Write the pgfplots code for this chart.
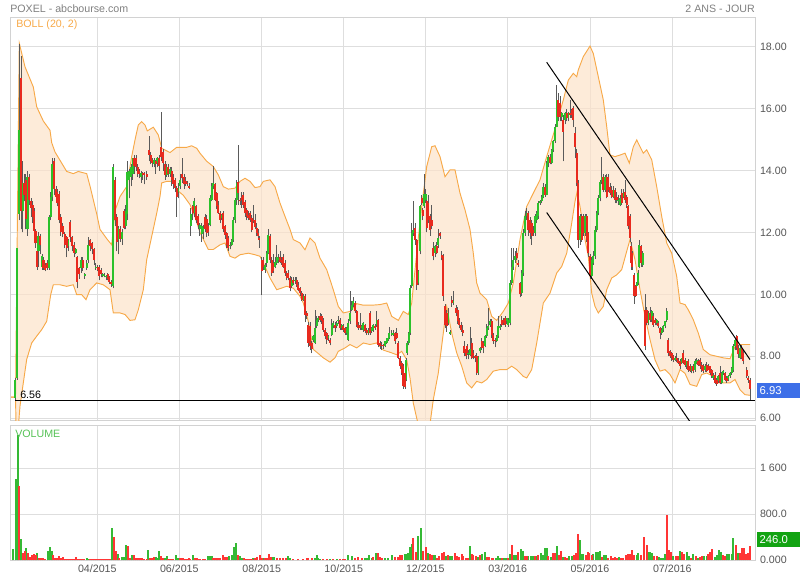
\documentclass[border=0pt]{standalone}
\usepackage{fontspec}
\setmainfont{Liberation Sans}
\usepackage{pgfplots}
\usepackage{pgfplotstable}
\pgfplotsset{compat=1.18}

\definecolor{gridc}{HTML}{DEDEDE}
\definecolor{framec}{HTML}{D2D2D2}
\definecolor{bandline}{HTML}{F7A948}
\definecolor{bandfill}{HTML}{FCE2C9}
\definecolor{upc}{HTML}{2BC12B}
\definecolor{dnc}{HTML}{E82A1E}
\definecolor{wickc}{HTML}{5A5A5A}
\definecolor{volup}{HTML}{35B935}
\definecolor{voldn}{HTML}{FF3535}
\definecolor{txtc}{HTML}{555555}
\definecolor{titc}{HTML}{808080}
\definecolor{lastc}{HTML}{3D6FE8}
\definecolor{volbox}{HTML}{12A312}
\definecolor{volabel}{HTML}{55C255}

% x is the pixel column of the original chart, prices in euros
\pgfplotstableread{
x o h l c
15.0 6.65 7.30 6.56 7.25
17.0 7.30 11.50 7.25 11.50
19.0 12.60 18.10 12.40 15.30
21.0 17.00 17.70 12.10 12.70
22.7 12.70 14.30 12.00 13.60
24.3 13.60 13.90 13.00 13.20
25.8 13.70 13.90 12.10 12.45
27.5 12.10 14.00 11.90 13.80
29.3 13.80 13.90 12.90 13.05
31.0 13.00 13.10 12.50 12.80
32.7 12.90 13.00 12.30 12.50
34.0 12.70 12.80 11.90 12.05
35.5 12.05 12.10 11.50 11.65
37.0 11.40 11.50 10.80 10.90
38.5 11.40 12.00 10.90 11.90
40.0 11.90 11.95 11.30 11.60
42.0 10.90 11.30 10.80 11.25
43.5 11.10 11.20 10.80 10.85
45.3 10.95 11.00 10.75 10.80
47.0 11.00 11.10 10.80 10.85
49.0 10.85 12.55 10.80 12.50
50.7 12.50 13.30 12.40 13.15
52.3 13.15 14.40 13.00 14.20
54.0 14.30 14.40 13.20 13.40
56.0 13.40 13.50 13.00 13.15
57.3 13.30 13.40 12.85 12.95
59.3 13.25 13.35 12.30 12.40
60.7 12.50 12.60 11.90 12.00
62.7 12.20 12.30 11.85 11.95
64.7 11.95 12.00 11.50 11.60
66.7 11.85 11.90 11.20 11.50
68.3 11.55 11.80 11.40 11.75
70.3 12.35 12.40 11.70 11.85
72.3 11.85 11.90 11.40 11.55
74.0 11.60 11.70 11.20 11.35
75.7 11.35 11.50 11.30 11.45
77.3 11.20 11.25 10.20 10.40
79.0 10.85 10.90 10.50 10.65
81.0 10.85 11.20 10.70 11.10
82.7 11.10 11.20 10.75 10.85
84.7 10.60 10.70 10.50 10.65
86.7 10.85 11.10 10.80 11.00
88.3 11.10 11.85 11.00 11.60
90.0 11.75 11.80 11.40 11.55
92.0 11.65 11.70 11.30 11.45
94.0 11.45 11.50 10.95 11.10
95.7 10.85 11.00 10.80 10.90
97.7 10.90 10.95 10.75 10.80
99.3 10.90 10.95 10.45 10.60
101.0 10.80 10.85 10.55 10.65
102.7 10.60 10.70 10.55 10.65
104.3 10.60 10.70 10.55 10.64
106.0 10.55 10.62 10.48 10.58
107.7 10.65 10.70 10.45 10.50
109.3 10.55 10.60 10.35 10.40
111.0 10.40 10.45 10.25 10.33
113.3 10.26 14.20 10.20 14.10
115.0 13.70 13.80 12.20 12.40
116.7 12.50 12.60 11.40 11.70
118.3 11.75 12.20 11.30 12.15
120.0 12.10 12.20 11.70 11.80
122.0 11.80 12.10 11.60 12.00
124.0 12.70 12.75 12.10 12.15
125.7 12.20 12.90 12.10 12.70
127.3 12.60 14.30 12.40 13.95
129.0 13.70 14.05 13.10 14.00
131.0 13.80 14.20 13.50 14.10
132.7 13.90 14.40 13.70 14.40
134.3 14.40 14.50 13.90 14.15
136.0 14.40 14.50 14.00 14.10
137.7 14.10 14.20 13.80 13.90
139.3 14.00 14.05 13.75 13.90
141.0 13.80 14.00 13.60 13.92
142.7 13.92 13.95 13.70 13.86
144.3 13.92 13.95 13.55 13.86
146.7 13.90 14.00 13.70 13.80
149.0 14.67 15.10 14.30 14.50
150.7 14.50 14.60 14.20 14.30
152.3 14.35 14.40 14.10 14.25
154.0 14.20 14.40 14.10 14.35
155.7 14.30 14.35 13.90 14.20
157.3 14.25 14.45 14.10 14.40
159.3 14.40 14.50 14.00 14.15
161.0 14.75 15.90 14.30 14.45
163.0 14.60 14.70 14.00 14.25
165.0 14.20 14.30 13.70 13.85
166.7 13.85 14.20 13.80 14.10
168.3 14.10 14.20 13.80 13.90
170.0 13.90 14.10 13.80 14.05
171.7 14.00 14.10 13.50 13.70
173.3 13.80 13.90 13.40 13.55
175.0 13.70 13.75 13.30 13.45
176.7 13.45 13.50 12.50 13.15
178.3 13.30 13.60 13.10 13.45
180.0 13.50 13.90 13.40 13.70
182.0 13.90 14.40 13.60 13.75
184.0 13.80 13.90 13.40 13.55
185.7 13.65 13.80 13.50 13.55
187.3 13.60 13.65 13.50 13.55
189.0 13.50 13.60 13.40 13.45
190.7 12.20 12.80 11.90 12.60
192.7 12.84 12.90 12.40 12.62
194.3 12.62 13.10 12.50 13.00
196.3 12.84 12.90 12.30 12.41
198.3 12.52 12.60 12.10 12.25
199.7 12.10 12.30 11.90 12.25
201.7 11.95 12.30 11.70 12.20
203.3 12.00 12.25 11.80 12.15
205.0 12.50 12.60 12.00 12.10
206.7 12.45 12.55 11.85 11.98
208.3 12.20 12.30 11.90 12.00
210.0 12.25 13.20 12.20 13.10
211.7 13.05 13.60 13.00 13.50
213.3 13.50 14.15 13.40 13.60
215.0 13.55 13.60 13.00 13.05
216.7 13.26 13.30 12.75 12.84
218.3 12.90 13.00 12.60 12.62
220.0 12.62 12.70 12.30 12.41
221.7 12.46 12.60 12.40 12.57
223.3 12.62 12.70 12.00 12.10
225.0 12.20 12.25 11.80 11.93
226.7 11.98 12.00 11.50 11.60
228.3 11.82 11.90 11.40 11.50
230.0 11.55 11.70 11.45 11.60
231.7 11.60 11.80 11.55 11.76
233.3 11.76 12.50 11.70 12.41
235.0 12.41 13.10 12.30 13.05
236.7 13.05 13.70 12.90 13.59
238.3 13.64 14.83 12.90 13.27
240.0 13.05 13.10 12.90 13.00
241.7 13.16 13.30 12.80 13.05
243.3 13.22 13.30 12.80 12.89
245.0 12.99 13.05 12.50 12.62
246.7 12.73 12.80 12.40 12.52
248.3 12.57 12.70 12.40 12.46
250.0 12.62 12.70 12.35 12.41
251.7 12.46 12.55 12.00 12.09
253.3 12.41 12.90 12.30 12.36
255.0 12.41 12.60 12.10 12.19
256.7 12.14 12.30 11.90 11.98
258.3 11.98 12.10 11.80 11.87
259.3 11.82 11.90 11.50 11.76
261.7 11.12 11.20 9.99 10.74
263.3 11.12 11.20 10.80 10.90
265.0 10.80 11.00 10.70 10.95
266.7 11.00 11.40 10.90 11.33
268.3 11.33 12.10 11.30 11.92
270.0 11.89 11.95 11.00 11.12
271.7 11.12 11.20 10.60 10.69
273.3 11.00 11.30 10.70 10.74
275.0 10.90 11.20 10.85 11.06
276.7 11.01 11.60 10.95 11.22
278.3 11.12 11.30 11.00 11.17
280.0 11.22 11.40 11.00 11.06
281.7 11.12 11.20 10.95 11.01
283.3 11.22 11.30 10.85 10.90
285.0 11.01 11.10 10.60 10.69
286.7 10.69 10.75 10.45 10.53
288.3 10.69 10.80 10.45 10.53
290.0 10.53 10.60 10.10 10.20
291.7 10.26 10.55 10.20 10.47
293.3 10.47 10.55 10.30 10.37
295.0 10.42 10.55 10.35 10.47
296.7 10.47 10.55 10.25 10.31
298.3 10.31 10.40 10.10 10.15
300.0 10.20 10.25 9.95 10.04
301.7 10.04 10.10 9.80 9.83
303.3 9.83 10.00 9.80 9.94
305.0 9.94 10.00 9.10 9.34
306.7 9.40 9.45 9.20 9.29
308.3 9.02 9.10 8.30 8.43
310.0 8.97 9.10 8.20 8.33
311.7 8.43 8.50 8.10 8.22
313.3 8.54 8.70 8.45 8.65
315.0 8.43 9.50 8.40 8.91
316.7 8.97 9.30 8.90 9.18
318.3 9.18 9.30 9.10 9.24
320.0 9.29 9.40 9.10 9.18
321.7 9.29 9.35 9.05 9.13
323.3 9.18 9.25 8.80 8.86
325.0 8.86 8.90 8.55 8.65
326.7 8.75 8.80 8.40 8.54
328.3 8.59 8.70 8.50 8.65
330.0 8.54 8.60 8.35 8.43
331.7 8.70 9.20 8.65 9.02
333.3 8.97 9.15 8.90 9.08
335.0 9.02 9.10 8.80 8.91
336.7 8.97 9.15 8.90 9.08
338.3 9.13 9.30 9.05 9.18
340.0 9.18 9.25 8.85 8.91
341.7 8.91 9.05 8.85 9.02
343.3 8.97 9.05 8.80 8.86
345.0 8.91 8.95 8.70 8.75
346.7 8.75 8.95 8.70 8.91
348.3 8.54 9.20 8.50 9.08
350.0 9.13 10.10 9.05 9.40
351.7 9.51 9.80 9.45 9.67
353.3 9.67 9.90 9.60 9.78
355.0 9.72 9.80 9.40 9.45
356.7 9.45 9.50 8.95 9.02
358.3 9.02 9.10 8.85 8.91
360.0 9.02 9.40 8.85 8.91
361.7 8.91 9.00 8.85 8.97
363.3 8.86 9.10 8.80 9.08
365.0 9.02 9.05 8.75 8.81
366.7 8.86 8.90 8.70 8.75
368.3 8.75 8.90 8.70 8.86
370.0 9.40 9.45 8.70 8.75
371.7 8.81 8.95 8.75 8.91
373.3 8.86 9.05 8.80 9.02
375.0 8.97 9.05 8.85 8.91
376.7 9.02 9.45 8.95 9.18
378.3 9.18 9.20 8.30 8.38
380.0 8.43 8.50 8.25 8.33
381.7 8.38 8.45 8.20 8.33
383.3 8.38 8.40 8.25 8.33
385.0 8.33 8.50 8.30 8.48
386.7 8.43 8.60 8.40 8.59
388.3 8.54 8.65 8.50 8.59
389.3 8.59 8.95 8.55 8.75
391.7 8.70 8.85 8.65 8.75
393.3 8.70 8.85 8.65 8.75
395.0 8.75 8.80 8.40 8.48
396.7 8.75 8.90 8.55 8.59
398.3 8.43 8.50 7.90 7.95
400.0 7.95 8.00 7.60 7.68
401.7 7.79 7.85 7.40 7.46
403.3 7.68 7.75 6.95 7.03
405.0 7.46 7.55 6.95 7.00
406.0 7.25 7.95 7.20 7.89
407.3 8.11 8.50 8.05 8.43
408.7 8.43 8.80 8.35 8.75
410.0 8.75 10.30 8.70 10.20
411.7 10.26 12.30 10.20 11.98
413.3 11.98 13.00 11.90 12.09
415.0 12.14 12.30 11.60 11.76
416.7 11.76 11.80 10.15 10.31
418.3 10.37 10.80 10.30 10.74
420.0 11.39 12.90 11.30 12.84
421.7 13.12 13.20 12.90 12.95
422.7 12.73 12.80 12.40 12.52
424.0 12.84 13.90 12.80 13.24
425.7 13.05 13.40 12.95 13.24
426.7 13.00 13.20 12.00 12.14
428.3 12.95 13.20 12.30 12.41
430.0 12.52 12.60 11.90 12.09
431.7 12.41 12.90 12.10 12.20
433.3 11.49 11.70 11.10 11.23
435.0 11.33 11.60 11.20 11.55
436.7 11.55 11.70 11.30 11.33
438.3 11.60 12.10 11.50 11.82
440.0 11.98 12.00 11.80 11.87
441.7 11.27 11.40 11.10 11.17
443.3 11.23 11.30 9.80 9.94
445.0 9.61 9.70 8.90 9.02
446.7 9.40 9.50 8.80 8.97
448.3 9.08 9.55 9.00 9.40
450.0 8.73 8.85 8.70 8.78
451.7 9.83 9.95 9.60 9.72
453.3 9.72 10.10 9.65 9.78
456.0 9.56 9.65 9.30 9.40
457.7 9.51 9.60 9.05 9.13
459.3 9.18 9.25 8.90 9.02
461.0 9.02 9.10 8.80 8.86
462.7 8.86 9.00 8.65 8.75
464.3 8.33 8.50 8.00 8.11
466.0 8.22 8.30 7.90 8.00
467.3 8.33 8.40 8.05 8.11
468.3 8.06 8.20 7.90 8.11
470.0 8.05 8.95 8.00 8.22
471.7 8.43 8.60 7.90 7.95
473.3 8.11 8.20 7.90 8.00
475.0 8.00 8.05 7.80 7.95
476.7 8.00 8.10 7.40 7.46
478.3 7.46 8.00 7.40 7.97
480.0 8.16 8.30 8.10 8.27
481.7 8.48 8.60 8.20 8.27
483.3 8.43 8.50 8.10 8.27
485.0 8.33 8.70 8.30 8.65
486.7 8.65 9.05 8.60 8.91
488.3 8.91 9.55 8.85 8.97
490.0 9.02 9.20 8.95 9.13
491.7 9.13 9.20 8.60 8.70
493.3 8.70 8.75 8.40 8.48
495.0 8.54 8.60 8.30 8.48
496.7 8.48 8.70 8.45 8.65
498.3 8.65 9.30 8.60 8.97
500.0 8.91 9.05 8.85 8.97
501.7 9.18 9.30 8.95 9.02
503.3 9.18 9.25 9.00 9.08
505.0 9.24 9.30 8.95 9.02
506.7 9.13 9.25 9.05 9.24
508.3 9.02 9.25 8.95 9.18
510.0 9.08 10.45 9.00 10.37
511.7 10.37 11.50 10.30 10.90
513.3 10.90 11.50 10.80 11.12
515.0 11.12 11.40 11.00 11.23
516.7 11.33 11.50 11.10 11.17
518.3 11.01 11.10 10.90 10.96
520.0 10.37 10.40 9.90 10.00
521.7 10.04 10.80 9.95 10.69
523.3 10.69 12.10 10.60 11.98
525.0 11.98 12.70 11.90 12.52
526.7 12.52 12.80 12.40 12.62
528.3 12.62 12.70 11.90 12.09
530.0 12.41 12.50 11.80 11.98
531.7 12.30 12.40 11.60 11.87
533.3 12.09 12.20 11.90 11.98
535.0 11.98 12.60 11.90 12.52
536.7 12.41 12.70 12.30 12.62
538.3 12.52 13.00 12.45 12.94
540.0 12.94 13.05 12.90 13.00
541.7 13.00 13.20 12.95 13.15
543.3 13.16 13.60 13.10 13.48
545.0 13.48 13.55 13.15 13.22
546.7 13.22 14.30 13.20 14.24
548.3 14.24 14.50 14.10 14.45
550.0 14.45 14.55 14.20 14.24
551.7 14.24 14.70 14.20 14.67
553.3 14.67 15.00 14.60 14.94
555.0 14.94 15.50 14.90 15.42
556.7 15.42 16.76 15.40 16.28
558.3 16.28 16.50 15.60 15.74
560.0 16.17 16.40 15.60 15.74
561.7 15.74 15.90 15.60 15.85
563.3 15.63 15.80 14.30 15.26
565.0 15.63 15.90 15.50 15.85
566.7 15.85 16.00 15.60 15.69
568.3 15.69 15.90 15.60 15.85
570.0 15.85 16.28 15.70 15.80
571.7 15.96 16.00 15.70 15.80
573.3 16.01 16.10 15.40 15.63
575.0 15.20 15.40 14.40 14.77
576.7 14.56 14.70 13.50 13.59
578.3 13.59 13.70 11.50 11.76
580.0 11.76 12.60 11.60 12.52
581.7 12.52 12.60 11.70 11.76
583.3 12.52 12.60 11.90 11.98
585.0 11.98 12.60 11.90 12.52
586.7 12.52 12.60 11.70 11.76
588.3 11.98 12.00 11.20 11.33
590.0 11.23 11.30 10.50 10.58
591.7 10.58 11.20 10.50 11.12
593.3 11.01 11.40 10.95 11.23
595.0 11.23 12.20 11.15 12.09
596.7 12.09 12.70 12.00 12.62
598.3 12.62 13.20 12.55 13.11
600.0 13.11 13.70 13.00 13.64
601.7 13.64 14.45 13.55 13.80
603.3 13.80 13.90 13.30 13.38
605.0 13.38 13.85 13.30 13.80
606.7 13.80 13.90 13.10 13.16
608.3 13.80 13.90 13.30 13.38
610.0 13.48 13.60 13.20 13.27
611.7 13.38 13.50 13.10 13.16
613.3 13.16 13.50 13.10 13.38
615.0 13.38 13.45 12.95 13.05
616.7 13.16 13.30 12.95 13.05
618.3 13.00 13.20 12.90 13.05
620.0 12.90 13.20 12.85 13.11
621.7 13.27 13.40 12.90 12.95
623.3 13.16 13.40 13.10 13.27
625.0 13.32 13.70 12.95 13.05
626.7 13.16 13.20 12.80 12.89
628.3 12.84 12.90 12.10 12.20
630.0 12.52 12.60 11.70 11.82
631.0 11.55 11.70 10.80 11.01
632.3 11.33 11.40 10.80 10.90
634.0 10.63 10.70 9.70 9.94
635.7 10.26 10.30 9.90 9.94
636.7 10.26 10.40 10.20 10.37
638.3 10.37 10.80 10.30 10.69
639.3 10.90 11.75 10.85 11.60
641.0 11.55 11.60 10.90 11.01
642.7 10.96 11.40 10.90 11.33
645.0 9.50 10.00 8.20 8.33
646.7 9.50 9.60 9.00 9.08
648.3 9.08 9.45 9.00 9.40
650.0 9.40 9.60 9.10 9.18
651.7 9.18 9.50 9.10 9.45
653.3 9.29 9.40 8.95 9.02
655.0 9.18 9.25 9.00 9.08
656.7 9.08 9.20 9.00 9.18
658.3 9.08 9.15 8.90 8.97
660.0 8.91 8.95 8.55 8.75
661.7 8.75 8.90 8.70 8.86
663.3 8.86 9.00 8.80 8.97
665.0 8.97 9.10 8.90 9.13
666.7 9.18 9.55 9.10 9.45
668.3 8.54 8.60 8.00 8.11
670.0 8.16 8.20 7.95 8.00
671.7 8.11 8.15 7.85 7.95
673.3 8.00 8.05 7.80 7.89
675.0 7.89 8.00 7.85 7.95
676.7 7.95 8.10 7.80 7.89
678.3 7.89 7.95 7.75 7.79
680.0 7.84 7.90 7.60 7.68
681.7 7.79 7.95 7.75 7.95
683.3 8.11 8.20 7.75 7.79
685.0 7.89 7.95 7.65 7.73
686.7 7.68 7.85 7.60 7.84
688.3 7.84 7.90 7.50 7.57
690.0 7.68 7.75 7.50 7.52
691.7 7.52 7.70 7.45 7.68
693.3 7.68 7.75 7.45 7.52
695.0 7.57 7.90 7.50 7.84
696.7 7.79 7.95 7.75 7.89
698.3 7.84 7.90 7.70 7.73
700.0 7.89 7.95 7.60 7.68
701.7 7.73 7.80 7.50 7.57
703.3 7.68 7.75 7.45 7.52
705.0 7.57 7.75 7.50 7.68
706.7 7.73 7.80 7.50 7.52
708.3 7.68 7.75 7.55 7.57
710.0 7.68 7.70 7.40 7.46
711.7 7.57 7.60 7.30 7.35
713.3 7.30 7.45 7.25 7.41
715.0 7.41 7.50 7.10 7.14
716.7 7.25 7.30 7.05 7.09
718.3 7.19 7.40 7.15 7.35
720.0 7.46 7.70 7.10 7.14
721.7 7.14 7.50 7.10 7.46
723.3 7.46 7.55 7.40 7.52
725.0 7.46 7.50 7.20 7.25
726.7 7.30 7.35 7.15 7.19
728.3 7.25 7.40 7.20 7.35
730.0 7.35 7.50 7.30 7.46
731.7 7.46 7.65 7.40 7.62
733.3 7.57 8.40 7.50 8.32
735.0 8.32 8.60 8.20 8.54
736.7 8.65 8.70 8.20 8.27
738.3 8.27 8.35 7.95 8.06
740.0 7.95 8.35 7.90 8.27
741.7 8.27 8.35 7.90 7.95
743.3 8.11 8.20 7.75 7.84
746.7 7.57 7.65 7.30 7.37
748.3 7.30 7.35 7.15 7.25
750.0 7.25 7.30 6.56 6.93
}\candles

\pgfplotstableread{
x v
11.0 6.68
15.5 6.68
19.3 18.11
25.0 17.35
33.3 16.70
36.7 16.06
43.3 15.60
50.0 15.30
51.7 14.90
55.0 14.60
61.7 14.24
66.7 13.97
73.3 13.90
78.3 13.97
86.7 13.90
90.0 13.50
96.7 12.60
100.0 12.10
106.7 11.80
111.7 11.60
115.0 12.70
120.0 13.16
126.7 13.48
131.7 14.45
135.0 14.99
138.3 15.47
141.7 15.58
145.0 15.47
147.3 15.28
153.3 15.40
158.3 15.15
161.7 14.72
170.0 14.58
176.7 14.75
186.7 14.75
191.7 14.80
196.7 14.72
200.0 14.56
206.7 14.30
213.3 14.13
218.3 13.86
223.3 13.48
228.3 13.40
235.0 13.43
240.0 13.65
245.0 13.75
250.0 13.65
255.0 13.45
260.0 13.48
263.3 13.65
270.0 13.70
275.0 13.48
280.0 12.95
285.0 12.52
290.0 12.10
293.3 11.77
300.0 11.66
305.0 11.44
310.0 11.82
315.0 11.66
320.0 11.17
326.7 10.80
333.3 10.15
338.3 9.61
343.3 9.40
350.0 9.45
356.7 9.70
363.3 9.65
371.7 9.65
380.0 9.67
386.7 9.72
391.7 9.29
398.3 9.16
403.3 9.45
408.3 9.35
411.7 9.72
416.7 11.33
421.7 12.84
426.7 14.13
431.7 14.77
435.0 14.80
440.0 14.45
445.0 13.80
450.0 14.02
455.0 14.02
460.0 13.27
465.0 12.73
470.0 12.10
473.3 11.33
476.7 10.37
480.0 10.04
486.7 9.83
491.7 9.29
496.7 9.16
503.3 9.45
508.3 9.72
513.3 10.37
520.0 11.77
526.7 12.84
533.3 13.27
540.0 13.70
546.7 14.45
551.7 14.99
556.7 15.53
563.3 16.28
568.3 16.92
573.3 17.14
576.7 17.03
578.3 17.25
583.3 17.68
590.0 18.02
593.3 17.78
598.3 17.03
603.3 16.28
606.7 15.42
610.0 14.50
615.0 14.45
620.0 14.50
625.0 14.56
629.3 14.24
633.3 14.77
636.7 14.99
640.0 14.77
643.3 14.56
646.7 14.67
651.7 14.35
656.7 13.48
661.7 12.52
666.7 11.66
671.7 11.33
676.7 10.58
680.0 9.72
685.0 9.67
688.3 9.50
693.3 9.18
698.3 8.75
703.3 8.22
710.0 8.05
716.7 8.00
723.3 7.95
730.0 7.92
735.0 8.32
740.0 8.38
750.0 8.38
}\bandup

\pgfplotstableread{
x v
11.0 6.68
15.5 6.68
16.5 5.00
20.0 6.39
23.3 7.14
26.7 7.90
31.7 8.43
36.7 8.65
41.7 8.86
46.7 9.13
50.7 9.99
53.3 10.31
60.0 10.31
66.7 10.26
73.3 10.31
76.7 9.99
81.7 9.99
86.0 9.83
90.0 10.15
96.7 10.37
103.3 10.31
110.0 10.15
113.3 9.40
120.0 9.40
125.0 9.35
130.0 9.16
135.0 9.18
138.3 9.50
143.3 10.15
146.7 11.12
151.7 11.87
156.7 12.62
160.0 13.16
161.7 13.60
166.7 13.65
173.3 13.65
176.7 13.38
183.3 13.20
190.0 12.90
195.0 12.50
200.0 12.00
208.3 11.45
213.3 11.45
220.0 11.60
225.0 11.66
230.0 11.23
235.0 11.17
240.0 11.28
248.3 11.33
255.0 11.28
260.0 11.23
265.0 10.90
270.0 10.53
276.7 10.15
286.7 10.26
293.3 10.20
300.0 9.94
303.3 9.72
308.3 9.13
313.3 8.22
318.3 8.09
323.3 7.95
330.0 7.81
335.0 7.95
338.3 8.16
345.0 8.27
350.0 8.38
356.7 8.27
363.3 8.43
370.0 8.38
376.7 8.43
383.3 8.20
391.7 8.11
396.7 8.05
401.7 8.16
406.7 7.89
410.0 7.30
413.3 6.49
416.7 6.00
421.7 5.40
428.3 5.40
433.3 6.60
438.3 7.46
443.3 8.75
446.7 9.60
451.7 8.75
456.7 8.11
461.7 7.68
466.7 7.14
471.7 6.98
476.7 7.19
481.7 7.14
486.7 7.25
493.3 7.52
500.0 7.57
506.7 7.57
511.7 7.68
516.7 7.57
523.3 7.35
526.7 7.30
531.7 7.57
536.7 8.43
543.3 9.72
550.0 10.04
556.7 10.69
561.7 10.90
566.7 11.33
571.7 12.30
575.0 13.00
577.0 13.30
580.0 12.84
585.0 11.77
588.3 11.23
591.7 10.04
595.0 9.61
598.3 9.40
603.3 9.61
606.7 10.15
611.7 10.53
616.7 10.63
621.7 10.80
626.7 11.39
630.0 11.77
635.0 11.12
640.0 10.15
645.0 9.29
650.0 8.54
655.0 7.89
660.0 7.52
665.0 7.57
670.0 7.41
675.0 7.14
680.0 7.57
685.0 7.45
690.0 7.09
696.7 7.03
701.7 7.41
706.7 7.46
713.3 7.35
718.3 7.14
725.0 7.14
730.0 7.14
735.0 7.25
740.0 6.92
745.0 6.76
750.0 6.74
}\bandlo

% band outline as one closed polygon: upper band forward, lower band backward
\pgfplotstablesort[sort key=x, sort cmp=float >]{\bandlorev}{\bandlo}
\pgfplotstablevertcat{\bandpoly}{\bandup}
\pgfplotstablevertcat{\bandpoly}{\bandlorev}

% volume (thousands), d=1 up day, d=0 down day
\pgfplotstableread{
x v d
13.3 190 1
15.7 1415 1
17.7 2180 1
19.3 1300 0
21.3 370 1
23.3 133 0
24.7 162 0
26.3 209 1
28.0 133 0
30.0 64 0
32.0 93 0
34.0 104 0
35.7 93 0
37.3 122 1
39.3 46 0
41.3 35 0
43.3 35 0
45.0 23 0
48.3 162 1
50.0 226 1
51.7 162 1
53.3 93 0
55.0 46 0
57.3 35 0
59.3 75 0
61.3 35 0
63.3 52 0
65.3 23 0
67.0 15 0
69.0 15 0
71.0 15 0
73.0 15 0
75.0 15 0
76.0 58 0
78.3 20 0
80.0 15 0
82.0 15 0
84.0 15 0
86.7 46 1
88.3 20 1
90.3 15 0
92.3 23 0
94.3 23 0
96.3 15 0
98.3 15 0
100.3 15 0
102.3 15 0
104.3 15 0
106.3 15 0
108.3 15 0
110.0 15 0
111.7 557 1
114.0 400 0
116.0 162 0
117.7 104 1
119.3 35 0
121.7 64 1
123.7 64 1
126.0 273 1
128.3 250 0
130.3 46 0
132.0 93 1
134.0 93 0
136.0 46 0
138.3 35 0
140.3 35 0
142.3 35 0
144.3 30 0
146.7 23 0
148.3 174 1
150.0 46 0
152.0 46 0
154.0 58 0
155.7 58 1
157.3 46 1
159.3 157 1
161.3 75 0
163.3 35 0
165.0 35 1
166.7 70 1
168.3 20 0
170.0 23 0
171.7 23 0
173.3 23 0
175.7 93 1
178.0 46 1
180.0 35 0
181.7 35 0
183.3 35 0
185.0 30 0
186.7 23 0
188.7 35 0
190.0 25 0
192.7 87 1
195.0 46 0
196.7 35 0
198.3 30 0
200.0 23 0
203.3 23 0
205.0 23 0
208.3 70 1
210.0 81 1
211.7 81 1
213.3 46 0
215.0 46 0
216.7 46 0
218.3 35 0
220.0 35 0
222.7 93 0
225.0 64 0
226.7 64 0
229.3 70 1
231.7 93 1
234.0 226 1
236.3 296 1
238.3 99 0
240.0 70 1
242.0 46 1
244.0 35 0
246.0 30 0
248.0 30 0
250.0 30 0
252.0 30 0
253.3 46 1
255.0 46 0
257.3 64 0
260.0 93 0
261.7 46 0
263.3 46 1
265.0 35 0
266.7 35 0
268.7 110 0
270.7 64 0
272.7 64 1
274.0 64 1
276.7 46 0
280.0 35 0
283.3 35 0
286.0 35 0
288.0 70 1
290.0 35 1
293.3 23 0
298.3 23 0
303.3 23 0
306.7 35 0
308.3 46 0
311.7 35 0
315.0 35 1
316.7 93 1
318.3 46 1
320.0 30 1
323.3 25 0
326.7 25 0
330.0 25 1
333.3 25 0
336.7 25 1
340.0 25 0
343.3 25 0
345.0 25 0
348.3 93 1
351.7 70 1
355.0 35 0
358.3 58 0
361.7 35 0
365.0 46 1
366.7 46 1
369.3 93 1
371.7 46 1
373.3 58 0
376.0 122 1
378.3 133 0
380.0 64 0
381.7 35 0
385.0 35 1
388.3 35 1
391.7 93 1
395.0 64 0
398.3 64 0
400.0 93 0
401.7 93 0
405.0 104 1
406.7 104 1
408.3 133 1
410.0 238 1
411.7 290 1
413.3 394 0
415.7 151 0
418.3 429 1
421.0 557 1
423.3 162 0
425.7 232 0
428.0 128 1
430.0 104 0
432.0 93 0
433.3 87 1
435.0 87 1
436.7 35 0
439.3 81 0
441.7 128 0
444.0 151 0
446.0 81 1
448.3 99 0
450.0 75 1
452.3 75 1
455.0 128 0
456.7 70 0
459.0 58 0
461.7 110 0
463.3 70 0
466.0 46 0
467.7 35 0
470.0 250 1
471.7 104 0
473.3 93 0
475.7 81 0
477.7 58 1
480.0 93 0
482.3 104 1
485.0 145 1
487.3 58 0
489.3 58 0
491.7 35 0
493.3 35 0
495.7 35 1
498.3 70 1
500.0 46 1
501.7 35 0
504.0 46 1
506.0 35 1
508.3 35 0
510.0 116 1
512.3 267 0
514.3 93 1
516.3 87 1
518.3 151 0
520.7 191 1
522.7 162 1
525.0 75 0
526.7 70 0
528.3 75 1
530.7 70 1
533.3 75 1
535.0 70 0
536.7 70 1
538.3 93 0
540.7 122 1
542.7 87 1
545.0 209 1
546.7 209 1
548.3 81 0
550.7 64 1
553.3 133 0
555.3 133 0
556.7 250 1
559.0 93 0
561.3 168 0
563.3 64 1
565.0 52 0
567.3 46 0
569.3 70 1
571.7 70 1
574.0 99 0
576.0 133 0
578.0 458 0
580.0 348 1
581.7 104 1
583.3 104 1
585.7 87 0
587.7 139 0
589.3 133 0
591.7 87 0
593.3 104 1
596.0 151 1
597.7 151 1
600.0 162 1
602.0 64 0
604.0 93 1
606.0 93 1
608.3 46 0
610.7 75 0
613.3 46 0
615.0 58 0
616.7 46 0
619.0 58 1
621.3 46 0
623.3 46 0
625.7 93 0
628.0 116 0
630.0 116 0
632.3 174 0
634.3 93 0
636.7 93 1
638.3 128 1
640.7 93 0
644.3 412 0
646.7 261 0
648.3 151 1
650.0 139 1
652.3 128 1
654.3 75 0
656.7 75 0
659.0 52 1
661.0 46 1
663.3 46 1
665.0 110 1
666.7 789 0
669.0 186 0
671.0 151 0
673.3 70 1
675.7 75 0
677.7 75 0
680.0 162 1
682.3 151 0
684.3 104 0
686.7 151 1
688.7 70 1
691.0 46 0
693.3 104 1
695.7 70 0
697.7 46 1
700.0 52 0
702.3 70 0
704.3 70 1
706.7 75 1
708.3 116 0
710.0 151 0
712.3 191 0
714.7 64 1
716.7 93 1
719.0 180 1
721.0 139 1
722.7 93 0
725.0 81 0
727.3 104 1
729.3 104 1
731.7 104 1
733.3 383 1
735.7 267 0
737.7 133 1
740.0 133 0
742.3 220 0
744.0 220 0
746.0 116 0
748.3 122 0
750.0 250 0
}\volumes

\pgfplotsset{
  panel/.style={
    scale only axis,
    width=558.75pt,
    xmin=10.3, xmax=755.3,
    axis line style={framec, line width=0.75pt},
    grid=major,
    major grid style={gridc, line width=0.75pt},
    major tick length=0pt,
    xtick={97.3,179.3,261.7,343.7,425.3,507.7,590,672.3},
    yticklabel pos=right,
    tick label style={font=\fontsize{8}{9.6}\selectfont, text=txtc},
  },
  % error bars only, the marks themselves are made invisible
  candle/.style={only marks, mark=*, mark size=0pt,
    mark options={draw=none, fill=none},
    error bars/.cd, y dir=plus, y explicit, error mark=none,
    error bar style={#1}},
}

\begin{document}
\begin{tikzpicture}
\useasboundingbox (0,0) rectangle (600pt,435pt);

% price panel
\begin{axis}[panel,
  at={(7.725pt,119.475pt)}, anchor=south west,
  height=302.55pt,
  ymin=5.92, ymax=18.95,
  ytick={6,8,10,12,14,16,18},
  yticklabels={6.00,8.00,10.00,12.00,14.00,16.00,18.00},
  xticklabels={},
]
  \addplot[draw=none, fill=bandfill, fill opacity=0.7] table[x=x, y=v] {\bandpoly};
  \addplot[bandline, line width=0.7pt] table[x=x, y=v] {\bandup};
  \addplot[bandline, line width=0.7pt] table[x=x, y=v] {\bandlo};

  \addplot[candle={wickc, line width=0.55pt}]
    table[x=x, y=l, y error plus expr=\thisrow{h}-\thisrow{l}] {\candles};
  \addplot[restrict expr to domain={\thisrow{c}-\thisrow{o}}{0:50}, candle={upc, line width=1.65pt}]
    table[x=x, y=o, y error plus expr=\thisrow{c}-\thisrow{o}] {\candles};
  \addplot[restrict expr to domain={\thisrow{o}-\thisrow{c}}{0.0001:50}, candle={dnc, line width=1.65pt}]
    table[x=x, y=c, y error plus expr=\thisrow{o}-\thisrow{c}] {\candles};

  % support line and falling channel
  \addplot[black, line width=0.75pt] coordinates {(15,6.56) (755.3,6.56)};
  \addplot[black, line width=0.75pt] coordinates {(546.7,17.497) (750,7.894)};
  \addplot[black, line width=0.75pt] coordinates {(546.7,12.645) (700,5.416)};
\end{axis}

% volume panel
\begin{axis}[panel,
  at={(7.725pt,14.775pt)}, anchor=south west,
  height=100.95pt,
  ymin=0, ymax=2341,
  ytick={0,800,1600},
  yticklabels={0.000,800.0,{1 600}},
  xticklabels={04/2015,06/2015,08/2015,10/2015,12/2015,03/2016,05/2016,07/2016},
]
  \addplot[ycomb, volup, line width=1.45pt, restrict expr to domain={\thisrow{d}}{0.5:1.5}]
    table[x=x, y=v] {\volumes};
  \addplot[ycomb, voldn, line width=1.45pt, restrict expr to domain={\thisrow{d}}{-0.5:0.5}]
    table[x=x, y=v] {\volumes};
\end{axis}

\begin{scope}[every node/.style={inner sep=0pt, font=\fontsize{8}{9.6}\selectfont}]
  \node[anchor=west, text=titc] at (7.5pt,428.25pt) {POXEL - abcbourse.com};
  \node[anchor=east, text=titc] at (566.25pt,428.25pt) {2 ANS - JOUR};
  \node[anchor=west, text=bandline] at (12pt,416.25pt) {BOLL (20, 2)};
  \node[anchor=west, text=black] at (15pt,138.75pt) {6.56};
  \node[anchor=west, text=volabel] at (11.25pt,109.5pt) {VOLUME};
  \fill[lastc] (567.75pt,136.5pt) rectangle (600pt,147.75pt);
  \node[anchor=west, text=white, font=\fontsize{8.5}{10}\selectfont] at (569.5pt,142.1pt) {6.93};
  \fill[volbox] (567.5pt,24.975pt) rectangle (600pt,35.775pt);
  \node[anchor=west, text=white, font=\fontsize{8.5}{10}\selectfont] at (569.5pt,30.4pt) {246.0};
\end{scope}
\end{tikzpicture}
\end{document}
